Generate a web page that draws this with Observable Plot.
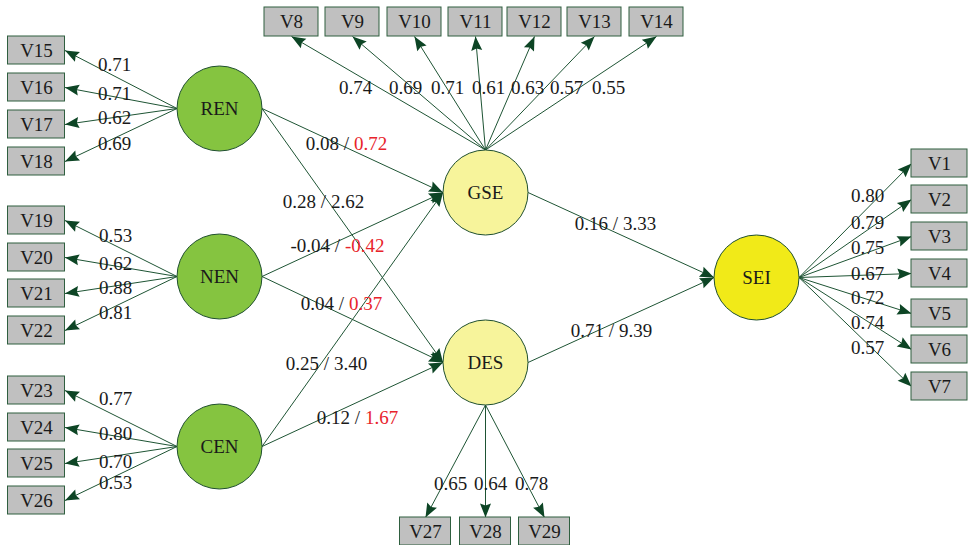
<!DOCTYPE html>
<html>
<head>
<meta charset="utf-8">
<script src="https://cdn.jsdelivr.net/npm/d3@7"></script>
<script src="https://cdn.jsdelivr.net/npm/@observablehq/plot@0.6"></script>
<style>
  html, body { margin: 0; padding: 0; background: #fff; overflow: hidden; }
  #chart svg { display: block; }
</style>
</head>
<body>
<div id="chart"></div>
<script>
// ---------------- DATA ----------------
const latentNames = ["REN", "NEN", "CEN", "GSE", "DES", "SEI"];
const latentKind  = ["exo", "exo", "exo", "med", "med", "out"];

const renItems = ["V15", "V16", "V17", "V18"];
const renLoadings = [0.71, 0.71, 0.62, 0.69];
const nenItems = ["V19", "V20", "V21", "V22"];
const nenLoadings = [0.53, 0.62, 0.88, 0.81];
const cenItems = ["V23", "V24", "V25", "V26"];
const cenLoadings = [0.77, 0.80, 0.70, 0.53];
const gseItems = ["V8", "V9", "V10", "V11", "V12", "V13", "V14"];
const gseLoadings = [0.74, 0.69, 0.71, 0.61, 0.63, 0.57, 0.55];
const seiItems = ["V1", "V2", "V3", "V4", "V5", "V6", "V7"];
const seiLoadings = [0.80, 0.79, 0.75, 0.67, 0.72, 0.74, 0.57];
const desItems = ["V27", "V28", "V29"];
const desLoadings = [0.65, 0.64, 0.78];

const pathFrom = ["REN", "REN", "NEN", "NEN", "CEN", "CEN", "GSE", "DES"];
const pathTo   = ["GSE", "DES", "GSE", "DES", "GSE", "DES", "SEI", "SEI"];
const pathCoef = [0.08, 0.28, -0.04, 0.04, 0.25, 0.12, 0.16, 0.71];
const pathT    = [0.72, 2.62, -0.42, 0.37, 3.40, 1.67, 3.33, 9.39];

// ---------------- LAYOUT ----------------
const latentX = [219, 219, 219, 485, 485, 756];
const latentY = [108, 276, 446, 192, 362, 277];
const R = 42.5;

const groups = [
  {latent: "REN", items: renItems, loadings: renLoadings, side: "left",
   bx: [36, 36, 36, 36], by: [50, 87, 124, 161], lx: [114, 114, 114, 114], ly: [64, 93, 117, 143]},
  {latent: "NEN", items: nenItems, loadings: nenLoadings, side: "left",
   bx: [36, 36, 36, 36], by: [220, 257, 293, 330], lx: [115, 115, 115, 115], ly: [235, 263, 287, 312]},
  {latent: "CEN", items: cenItems, loadings: cenLoadings, side: "left",
   bx: [36, 36, 36, 36], by: [390, 427, 463, 500], lx: [115, 115, 115, 115], ly: [398, 433, 461, 482]},
  {latent: "GSE", items: gseItems, loadings: gseLoadings, side: "top",
   bx: [291, 352, 414, 475, 534, 594, 656], by: Array(7).fill(21.5),
   lx: [355, 405, 447, 488, 527, 566, 608], ly: Array(7).fill(87)},
  {latent: "SEI", items: seiItems, loadings: seiLoadings, side: "right",
   bx: Array(7).fill(939), by: [163, 199, 236, 273, 313, 349, 386],
   lx: Array(7).fill(867), ly: [195, 222, 247, 273, 297, 322, 347]},
  {latent: "DES", items: desItems, loadings: desLoadings, side: "bottom",
   bx: [425, 485, 544], by: Array(3).fill(531), lx: [450, 490, 531], ly: Array(3).fill(483)}
];
const boxSize = {left: [57, 28], right: [56, 28], top: [54, 29], bottom: [51, 28]};

const pathLabelX = [346, 323, 337, 341, 326, 357, 615, 611];
const pathLabelY = [143, 201, 245, 303, 363, 417, 223, 330];

// ---------------- BUILD TABLES ----------------
const latents = latentNames.map((n, i) => ({name: n, kind: latentKind[i], x: latentX[i], y: latentY[i]}));
const L = Object.fromEntries(latents.map(d => [d.name, d]));

const boxes = [], edges = [], loadLabels = [];
for (const g of groups) {
  const c = L[g.latent];
  const [bw, bh] = boxSize[g.side];
  g.items.forEach((name, i) => {
    const bx = g.bx[i], by = g.by[i];
    boxes.push({name, x1: bx - bw / 2, x2: bx + bw / 2, y1: by - bh / 2, y2: by + bh / 2, cx: bx, cy: by});
    let e;
    if (g.side === "left")   e = {x1: c.x - R, y1: c.y, x2: bx + bw / 2, y2: by};
    if (g.side === "right")  e = {x1: c.x + R, y1: c.y, x2: bx - bw / 2, y2: by};
    if (g.side === "top")    e = {x1: c.x, y1: c.y - R, x2: bx, y2: by + bh / 2};
    if (g.side === "bottom") e = {x1: c.x, y1: c.y + R, x2: bx, y2: by - bh / 2};
    edges.push(e);
    loadLabels.push({text: g.loadings[i].toFixed(2), x: g.lx[i], y: g.ly[i]});
  });
}
pathFrom.forEach((f, i) => {
  const a = L[f], b = L[pathTo[i]];
  edges.push({x1: a.x + R, y1: a.y, x2: b.x - R, y2: b.y});
});
edges.forEach(e => { e.angle = Math.atan2(e.x2 - e.x1, -(e.y2 - e.y1)) * 180 / Math.PI; });

const FONT = "Liberation Serif";
const FS = 19;
const cv = document.createElement("canvas").getContext("2d");
cv.font = `${FS}px "${FONT}"`;
const pathA = [], pathB = [];
pathCoef.forEach((c, i) => {
  const a = `${c.toFixed(2)} /`, b = pathT[i].toFixed(2);
  const wa = cv.measureText(a).width, ws = cv.measureText(" ").width, wb = cv.measureText(b).width;
  const left = pathLabelX[i] - (wa + ws + wb) / 2;
  pathA.push({text: a, x: left, y: pathLabelY[i]});
  pathB.push({text: b, x: left + wa + ws, y: pathLabelY[i], sig: Math.abs(pathT[i]) >= 1.96});
});

const arrowHead = {
  draw(ctx) {
    ctx.moveTo(0, 0);
    ctx.lineTo(-5.5, 14);
    ctx.lineTo(0, 12);
    ctx.lineTo(5.5, 14);
    ctx.closePath();
  }
};

const fills = {exo: "#85c440", med: "#f7f49b", out: "#f1ea18"};
const lineColor = "#1e5434";
const headColor = "#0d4525";
const textColor = "#1a1a1a";

const chart = Plot.plot({
  width: 968,
  height: 545,
  margin: 0,
  x: {domain: [0, 968], range: [0, 968], axis: null},
  y: {domain: [0, 545], range: [0, 545], axis: null},
  style: {background: "#ffffff", overflow: "hidden"},
  marks: [
    Plot.link(edges, {x1: "x1", y1: "y1", x2: "x2", y2: "y2", stroke: lineColor, strokeWidth: 1}),
    Plot.dot(edges, {x: "x2", y: "y2", rotate: "angle", symbol: arrowHead, fill: headColor, stroke: "none"}),
    Plot.rect(boxes, {x1: "x1", x2: "x2", y1: "y1", y2: "y2", fill: "#c0c0c0", stroke: "#2f5f3f", strokeWidth: 1}),
    Plot.text(boxes, {x: "cx", y: "cy", text: "name", fontSize: FS, fontFamily: FONT, fill: textColor}),
    Plot.dot(latents, {x: "x", y: "y", r: R, fill: d => fills[d.kind], stroke: "#1f4f2f", strokeWidth: 1}),
    Plot.text(latents, {x: "x", y: "y", text: "name", fontSize: FS, fontFamily: FONT, fill: textColor}),
    Plot.text(loadLabels, {x: "x", y: "y", text: "text", fontSize: FS, fontFamily: FONT, fill: textColor}),
    Plot.text(pathA, {x: "x", y: "y", text: "text", textAnchor: "start", fontSize: FS, fontFamily: FONT, fill: textColor}),
    Plot.text(pathB, {x: "x", y: "y", text: "text", textAnchor: "start", fontSize: FS, fontFamily: FONT,
                      fill: d => d.sig ? textColor : "#e8232b"})
  ]
});
document.getElementById("chart").appendChild(chart);
</script>
</body>
</html>
